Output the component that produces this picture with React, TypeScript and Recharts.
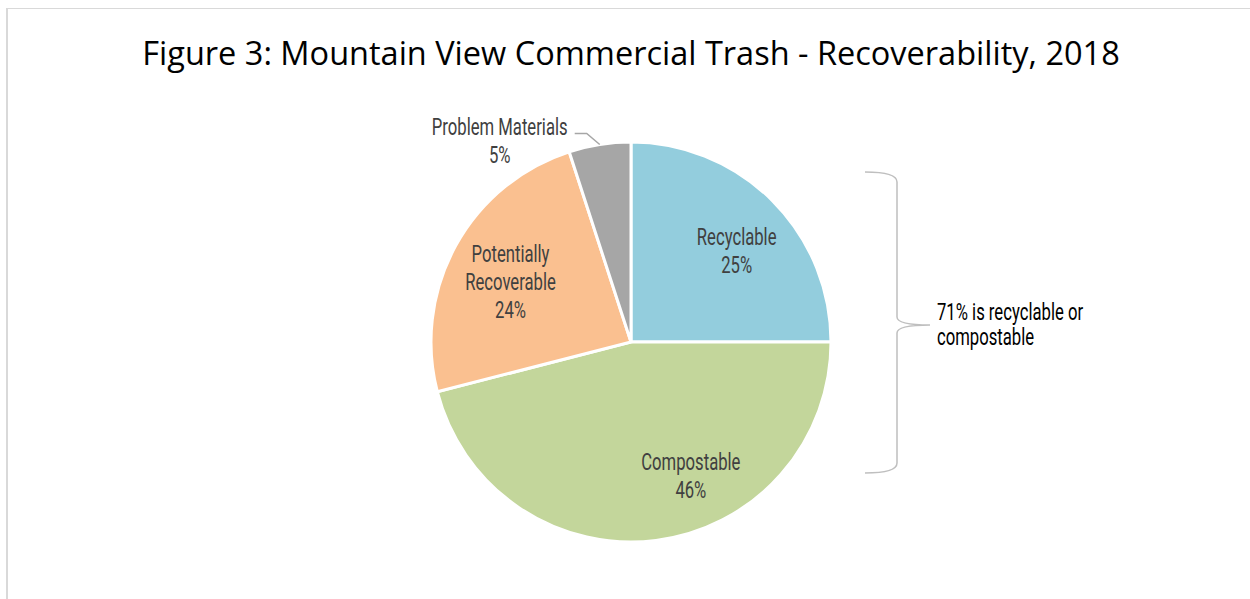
import { PieChart, Pie, Cell, Customized } from "recharts";

const categories = ["Recyclable", "Compostable", "Potentially Recoverable", "Problem Materials"];
const labelLines = [["Recyclable"], ["Compostable"], ["Potentially", "Recoverable"], ["Problem Materials"]];
const shares = [25, 46, 24, 5];
const COLORS = ["#93CDDD", "#C3D69B", "#FAC090", "#A6A6A6"];
const title = "Figure 3: Mountain View Commercial Trash - Recoverability, 2018";
const braceNote = ["71% is recyclable or", "compostable"];

const data = categories.map((name, i) => ({ name, value: shares[i], lines: labelLines[i] }));

const W = 1250;
const H = 599;
const CX = 631;
const CY = 342;
const R = 200;
const LABEL_FONT = "Roboto, sans-serif";
const LABEL_SIZE = 23.5;
const SQUEEZE = 0.71; // narrow the face to look like a condensed display font
const LINE_H = 28;
// small angle nudges to mimic Excel's "best fit" label placement
const labelNudge: Record<string, { da: number; r: number }> = {
  Recyclable: { da: -4, r: 140 },
  Compostable: { da: 17, r: 146 },
  "Potentially Recoverable": { da: 2, r: 135 },
};

const RAD = Math.PI / 180;

function NarrowText({ x, y, anchor = "middle", fill = "#404040", children }: any) {
  return (
    <text
      transform={`translate(${x},${y}) scale(${SQUEEZE},1)`}
      x={0}
      y={0}
      textAnchor={anchor}
      fontFamily={LABEL_FONT}
      fontSize={LABEL_SIZE}
      fill={fill}
    >
      {children}
    </text>
  );
}

function renderLabel(props: any) {
  const { cx, cy, midAngle, outerRadius, index, payload } = props;
  const lines: string[] = (payload && payload.lines) || labelLines[index];
  const pct = `${shares[index]}%`;
  const all = [...lines, pct];
  const name = categories[index];

  if (name === "Problem Materials") {
    const ex = cx + outerRadius * Math.cos(-midAngle * RAD);
    const ey = cy + outerRadius * Math.sin(-midAngle * RAD);
    const elbowX = ex - 13;
    const elbowY = ey - 11;
    const endX = elbowX - 12;
    const textCx = endX - 75;
    return (
      <g>
        <polyline
          points={`${ex},${ey} ${elbowX},${elbowY} ${endX},${elbowY}`}
          fill="none"
          stroke="#A6A6A6"
          strokeWidth={1.5}
        />
        {all.map((t, i) => (
          <NarrowText key={i} x={textCx} y={elbowY + 2 + i * LINE_H}>
            {t}
          </NarrowText>
        ))}
      </g>
    );
  }

  const nudge = labelNudge[name] || { da: 0, r: outerRadius * 0.7 };
  const a = (midAngle + nudge.da) * RAD;
  const x = cx + nudge.r * Math.cos(-a);
  const y = cy + nudge.r * Math.sin(-a);
  const firstBase = y - ((all.length - 1) * LINE_H) / 2 + 9;
  return (
    <g>
      {all.map((t, i) => (
        <NarrowText key={i} x={x} y={firstBase + i * LINE_H}>
          {t}
        </NarrowText>
      ))}
    </g>
  );
}

function Extras() {
  const bx = 897;
  const top = 172;
  const bottom = 473;
  const mid = 325;
  const d = `M865,${top} Q${bx},${top} ${bx},${top + 10} L${bx},${mid - 8} Q${bx},${mid} ${bx + 33},${mid} Q${bx},${mid} ${bx},${mid + 8} L${bx},${bottom - 10} Q${bx},${bottom} 865,${bottom}`;
  return (
    <g>
      <text
        x={631}
        y={65}
        textAnchor="middle"
        fontFamily="'Open Sans', sans-serif"
        fontSize={32.5}
        fill="#000"
      >
        {title}
      </text>
      <path d={d} fill="none" stroke="#BFBFBF" strokeWidth={1.5} />
      {braceNote.map((t, i) => (
        <NarrowText key={i} x={937} y={320 + i * 25} anchor="start" fill="#000">
          {t}
        </NarrowText>
      ))}
    </g>
  );
}

export default function App() {
  return (
    <div style={{ position: "absolute", left: 0, top: 0, width: W, height: H, overflow: "hidden", background: "#fff" }}>
      <div
        style={{
          position: "absolute",
          left: 6,
          top: 8,
          width: W + 20,
          height: H + 20,
          borderLeft: "2px solid #D9D9D9",
          borderTop: "1.5px solid #D9D9D9",
        }}
      />
      <div style={{ position: "absolute", left: 0, top: 0 }}>
        <PieChart width={W} height={H} margin={{ top: 0, right: 0, bottom: 0, left: 0 }}>
          <Pie
            data={data}
            dataKey="value"
            nameKey="name"
            cx={CX}
            cy={CY}
            outerRadius={R}
            startAngle={90}
            endAngle={-270}
            stroke="#fff"
            strokeWidth={3}
            label={renderLabel}
            labelLine={false}
            isAnimationActive={false}
          >
            {data.map((entry, index) => (
              <Cell key={`cell-${index}`} fill={COLORS[index % COLORS.length]} />
            ))}
          </Pie>
          <Customized component={<Extras />} />
        </PieChart>
      </div>
    </div>
  );
}
